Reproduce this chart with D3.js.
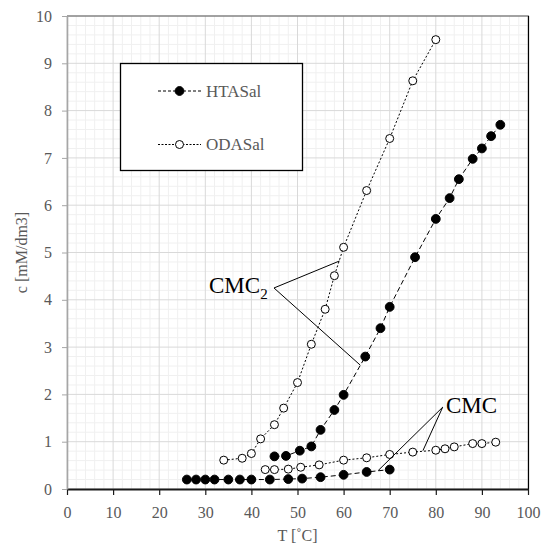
<!DOCTYPE html>
<html><head><meta charset="utf-8">
<script src="https://cdn.jsdelivr.net/npm/d3@7"></script>
<style>body{margin:0;background:#fff}svg{display:block}svg text{font-family:"Liberation Serif","Times New Roman",serif !important}</style>
</head><body><svg id="c" width="541" height="546" font-family="Liberation Serif"></svg>
<script>
// ---- data ----
const htasLowT  = [26,28,30,32,35,37.5,40,44,48,51,55,60,65,70];
const htasLowC  = [0.2,0.2,0.2,0.2,0.2,0.2,0.2,0.2,0.21,0.22,0.25,0.3,0.36,0.41];
const htasHighT = [45,47.5,50.5,53,55,58,60,64.7,68,70,75.5,80,83,85,88,90,92,94];
const htasHighC = [0.69,0.7,0.81,0.9,1.25,1.67,1.99,2.8,3.4,3.85,4.9,5.71,6.15,6.55,6.98,7.2,7.46,7.7];
const odaLowT   = [43,45,48,50.7,54.7,60,65,70,75,80,82,84,88,90,93];
const odaLowC   = [0.41,0.41,0.42,0.46,0.51,0.61,0.66,0.73,0.78,0.82,0.85,0.89,0.96,0.96,0.99];
const odaHighT  = [34,38,40,42,45,47,50,53,56,58,60,65,70,75,80];
const odaHighC  = [0.61,0.65,0.75,1.06,1.36,1.71,2.25,3.06,3.8,4.51,5.11,6.31,7.41,8.63,9.5];
const xTicks = [0,10,20,30,40,50,60,70,80,90,100];
const yTicks = [0,1,2,3,4,5,6,7,8,9,10];
const legendNames = ["HTASal","ODASal"];
// annotation leader lines in data coords [T,c]
const cmc2Lines = [[[44.9,4.25],[59.1,4.82]],[[44.9,4.25],[63.6,2.62]]];
const cmcLines  = [[[81.5,1.73],[67.5,0.39]],[[81.5,1.73],[77.2,0.81]]];

const FONT = "Liberation Serif";
const svg = d3.select("#c");
const L=67, R=528, T=16, B=489;
const x = d3.scaleLinear().domain([0,100]).range([L,R]);
const y = d3.scaleLinear().domain([0,10]).range([B,T]);

// minor grid
const g = svg.append("g");
d3.range(0,100.01,2).forEach(v=>{ if(v%10) g.append("line").attr("x1",x(v)).attr("x2",x(v)).attr("y1",T).attr("y2",B).attr("stroke","#f0f0f0"); });
d3.range(0,10.001,0.2).forEach(v=>{ if(Math.abs(v-Math.round(v))>1e-6) g.append("line").attr("y1",y(v)).attr("y2",y(v)).attr("x1",L).attr("x2",R).attr("stroke","#f0f0f0"); });
// major grid
xTicks.forEach(v=>g.append("line").attr("x1",x(v)).attr("x2",x(v)).attr("y1",T).attr("y2",B).attr("stroke","#d9d9d9"));
yTicks.forEach(v=>g.append("line").attr("y1",y(v)).attr("y2",y(v)).attr("x1",L).attr("x2",R).attr("stroke","#d9d9d9"));

// frame
svg.append("line").attr("x1",L).attr("x2",R+1).attr("y1",T).attr("y2",T).attr("stroke","#595959").attr("stroke-width",1.2);
svg.append("line").attr("x1",R+0.5).attr("x2",R+0.5).attr("y1",T).attr("y2",B).attr("stroke","#000").attr("stroke-width",1.2);

// axes
const xa = svg.append("g").attr("transform",`translate(0,${B})`).call(d3.axisBottom(x).tickValues(xTicks).tickSize(6).tickSizeOuter(0));
xa.attr("font-family",FONT).attr("font-size",16);
xa.select(".domain").attr("stroke","#1a1a1a").attr("stroke-width",2.2);
xa.selectAll(".tick line").attr("stroke","#1a1a1a").attr("stroke-width",1.2);
xa.selectAll("text").attr("font-size",16).attr("font-family",FONT).attr("fill","#595959").attr("dy","1.25em");
const ya = svg.append("g").attr("transform",`translate(${L},0)`).call(d3.axisLeft(y).tickValues(yTicks).tickSize(5).tickSizeOuter(0));
ya.attr("font-family",FONT).attr("font-size",16);
ya.select(".domain").attr("stroke","#a6a6a6").attr("stroke-width",1.6);
ya.selectAll(".tick line").attr("stroke","#a6a6a6");
ya.selectAll("text").attr("font-size",16).attr("font-family",FONT).attr("fill","#595959").attr("x",-15);

svg.append("text").attr("x",(L+R)/2).attr("y",541).attr("text-anchor","middle").attr("font-size",16).attr("font-family",FONT).attr("fill","#595959").text("T [˚C]");
svg.append("text").attr("transform",`translate(27,${(T+B)/2}) rotate(-90)`).attr("text-anchor","middle").attr("font-size",16).attr("font-family",FONT).attr("fill","#595959").text("c [mM/dm3]");

// series
const line = d3.line().x(d=>x(d[0])).y(d=>y(d[1]));
const zip=(a,b)=>a.map((v,i)=>[v,b[i]]);
const series = [
  {d:zip(htasLowT,htasLowC), dash:"5,3", fill:"#000"},
  {d:zip(htasHighT,htasHighC), dash:"5,3", fill:"#000"},
  {d:zip(odaLowT,odaLowC), dash:"2,2", fill:"#fff"},
  {d:zip(odaHighT,odaHighC), dash:"2,2", fill:"#fff"}
];
series.forEach(s=>svg.append("path").attr("d",line(s.d)).attr("fill","none").attr("stroke","#000").attr("stroke-width",1).attr("stroke-dasharray",s.dash));
series.forEach(s=>svg.append("g").selectAll("circle").data(s.d).join("circle")
  .attr("cx",d=>x(d[0])).attr("cy",d=>y(d[1])).attr("r",s.fill==="#000"?4.4:4)
  .attr("fill",s.fill).attr("stroke","#000").attr("stroke-width",1));

// annotations
[...cmc2Lines,...cmcLines].forEach(l=>svg.append("line").attr("x1",x(l[0][0])).attr("y1",y(l[0][1])).attr("x2",x(l[1][0])).attr("y2",y(l[1][1])).attr("stroke","#000").attr("stroke-width",1));
const t2 = svg.append("text").attr("x",x(30.8)).attr("y",y(4.14)).attr("font-size",23).attr("font-family",FONT).attr("fill","#000");
t2.append("tspan").text("CMC");
t2.append("tspan").attr("font-size",15).attr("dy",6).text("2");
svg.append("text").attr("x",x(82.2)).attr("y",y(1.6)).attr("font-size",23).attr("font-family",FONT).attr("fill","#000").text("CMC");

// legend
const lg = svg.append("g");
lg.append("rect").attr("x",120.5).attr("y",63.5).attr("width",182).attr("height",107).attr("fill","#fff").attr("stroke","#000").attr("stroke-width",1.3);
legendNames.forEach((n,i)=>{
  const yy = [91,144.5][i];
  lg.append("line").attr("x1",158).attr("x2",201).attr("y1",yy).attr("y2",yy).attr("stroke","#000").attr("stroke-dasharray",i?"2,1.5":"3,2");
  lg.append("circle").attr("cx",179.5).attr("cy",yy).attr("r",i?4:4.4).attr("fill",i?"#fff":"#000").attr("stroke","#000");
  lg.append("text").attr("x",206).attr("y",yy).attr("dy","0.35em").attr("font-size",17).attr("font-family",FONT).attr("fill","#595959").text(n);
});
</script></body></html>
